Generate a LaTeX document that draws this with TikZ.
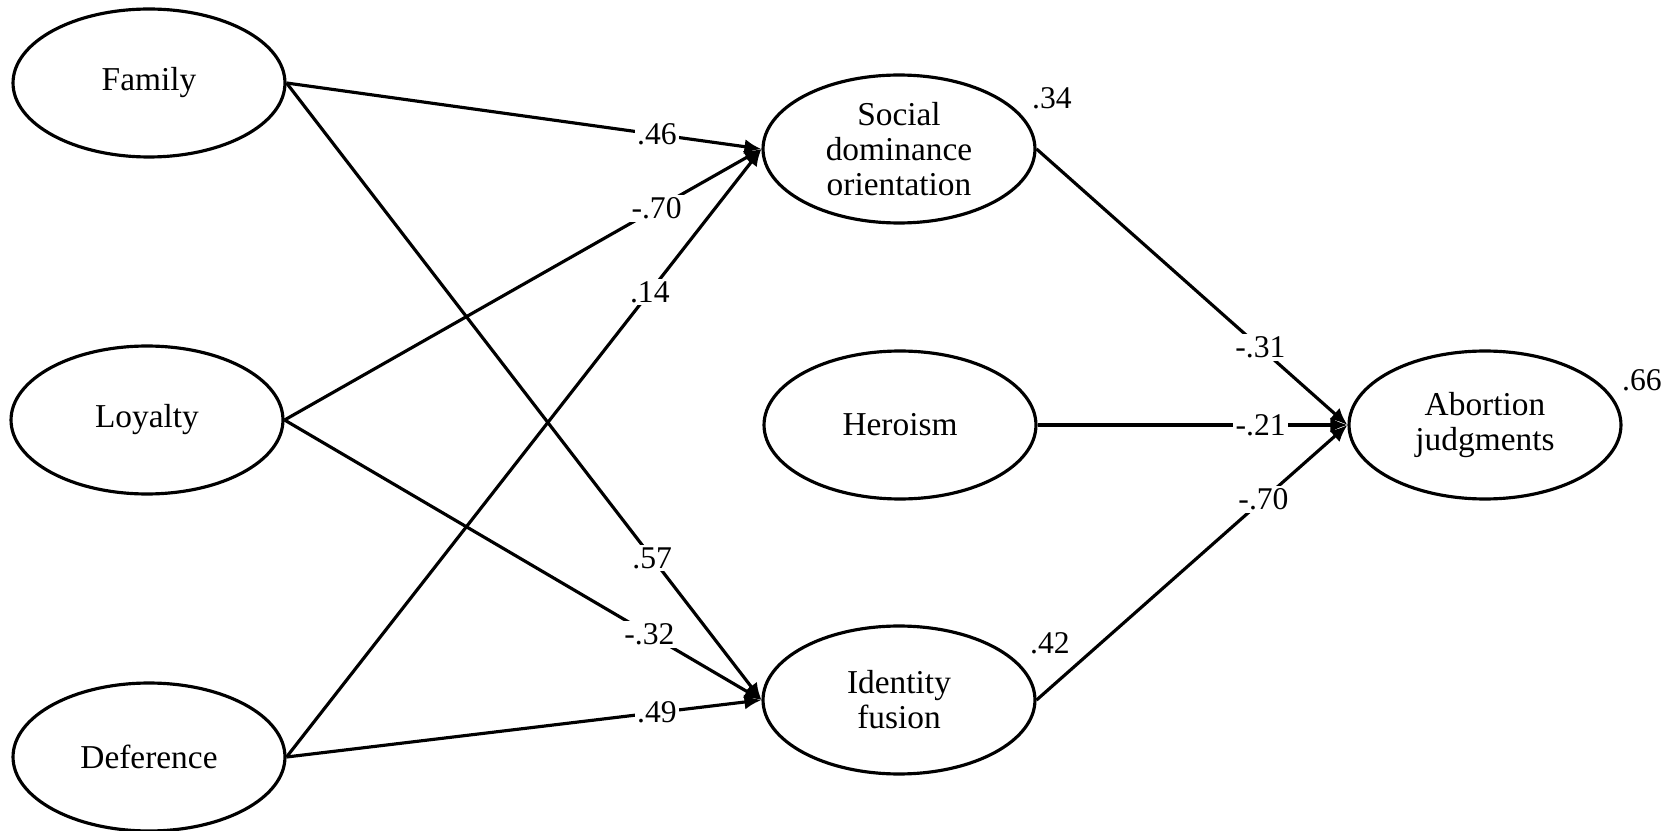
\documentclass[tikz,border=0pt]{standalone}
\usepackage{fontspec}
\setmainfont{Liberation Serif}
\usetikzlibrary{shapes.geometric, arrows.meta, positioning}
\tikzstyle{latent}=[ellipse, draw=black, line width=1.8pt,
    minimum width=5.44cm, minimum height=2.96cm, inner sep=0pt,
    align=center, font=\fontsize{19}{20}\selectfont]
\tikzstyle{coef}=[fill=white, inner sep=1.5pt, font=\fontsize{18}{20}\selectfont]
\tikzstyle{line}=[draw, line width=1.8pt, -{Latex[length=0.34cm,width=0.3cm]}]

\begin{document}
\begin{tikzpicture}
      [x=0.02cm, y=-0.02cm,
      rsq/.style={inner sep=0pt, font=\fontsize{18}{20}\selectfont}]
      \useasboundingbox (0,0) rectangle (1668,831);

      % predictors
      \node [latent] (family)    at (149,83)  {Family};
      \node [latent] (loyalty)   at (147,420) {Loyalty};
      \node [latent] (deference) at (149,757) {Deference};
      % mediators
      \node [latent] (sdo)    at (899,149) {Social\\dominance\\orientation};
      \node [latent] (heroism) at (900,425) {Heroism};
      \node [latent] (fusion) at (899,700) {Identity\\fusion};
      % outcome
      \node [latent] (abortion) at (1485,425) {Abortion\\judgments};

      \node [rsq] (rsdo) at (1052,98)  {.34};
      \node [rsq] (rfus) at (1050,643) {.42};
      \node [rsq] (rabo) at (1642,380) {.66};

      \draw [line] (family.east)    -- node[coef, pos=0.78]  {.46}  (sdo.west);
      \draw [line] (loyalty.east)   -- node[coef, pos=0.78]  {-.70} (sdo.west);
      \draw [line] (deference.east) -- node[coef, pos=0.765] {.14}  (sdo.west);
      \draw [line] (family.east)    -- node[coef, pos=0.77]  {.57}  (fusion.west);
      \draw [line] (loyalty.east)   -- node[coef, pos=0.765] {-.32} (fusion.west);
      \draw [line] (deference.east) -- node[coef, pos=0.78]  {.49}  (fusion.west);

      \draw [line] (sdo.east)     -- node[coef, pos=0.72] {-.31} (abortion.west);
      \draw [line] (heroism.east) -- node[coef, pos=0.72] {-.21} (abortion.west);
      \draw [line] (fusion.east)  -- node[coef, pos=0.73] {-.70} (abortion.west);
\end{tikzpicture}
\end{document}
